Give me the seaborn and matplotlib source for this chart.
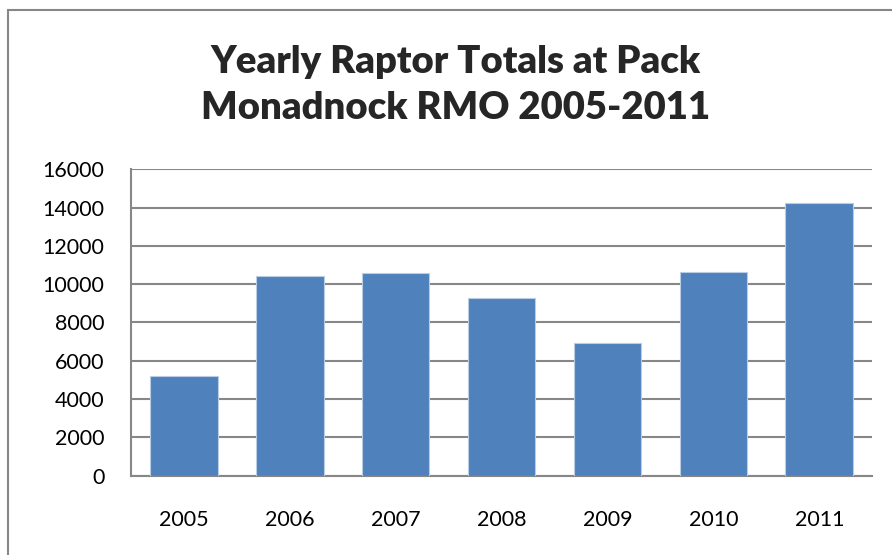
import matplotlib
matplotlib.use('Agg')
import matplotlib.pyplot as plt
import matplotlib.patches as patches
import seaborn as sns
import pandas as pd

# yearly raptor totals
years = ['2005', '2006', '2007', '2008', '2009', '2010', '2011']
totals = [5210, 10430, 10600, 9260, 6950, 10620, 14250]

df = pd.DataFrame({'year': years, 'total': totals})

sns.set_style('white')
plt.rcParams['font.family'] = ['Lato', 'DejaVu Sans']

fig = plt.figure(figsize=(8.92, 5.55), dpi=100)
ax = fig.add_axes([0.1465, 0.1429, 0.8315, 0.5521])

sns.barplot(data=df, x='year', y='total', color='#4F81BD', saturation=1,
            width=0.64, edgecolor='#B9CDE5', linewidth=0.8, ax=ax, zorder=3)

ax.set_ylim(0, 16000)
ax.set_yticks(range(0, 16001, 2000))
ax.set_xlim(-0.5, 6.5)
ax.grid(axis='y', color='#878787', linewidth=1.5, zorder=0)
ax.set_axisbelow(True)
for s in ['top', 'right']:
    ax.spines[s].set_visible(False)
ax.spines['left'].set_color('#878787')
ax.spines['left'].set_linewidth(1.5)
ax.spines['bottom'].set_color('#878787')
ax.spines['bottom'].set_linewidth(1.5)
ax.tick_params(axis='y', length=0, pad=19, labelsize=15.5, labelcolor='black')
ax.tick_params(axis='x', length=0, pad=25, labelsize=15.5, labelcolor='black')
ax.set_xlabel('')
ax.set_ylabel('')

fig.text(0.511, 0.888, 'Yearly Raptor Totals at Pack', ha='center', va='center',
         fontsize=27.5, fontweight='heavy')
fig.text(0.511, 0.805, 'Monadnock RMO 2005-2011', ha='center', va='center',
         fontsize=27.5, fontweight='heavy')

# outer chart border
fig.add_artist(patches.Rectangle((8 / 892, -0.1), 1.2, 1.1 - 10 / 555,
                                 transform=fig.transFigure, fill=False,
                                 edgecolor='#878787', linewidth=1.5))

fig.savefig('out.png', dpi=100)
